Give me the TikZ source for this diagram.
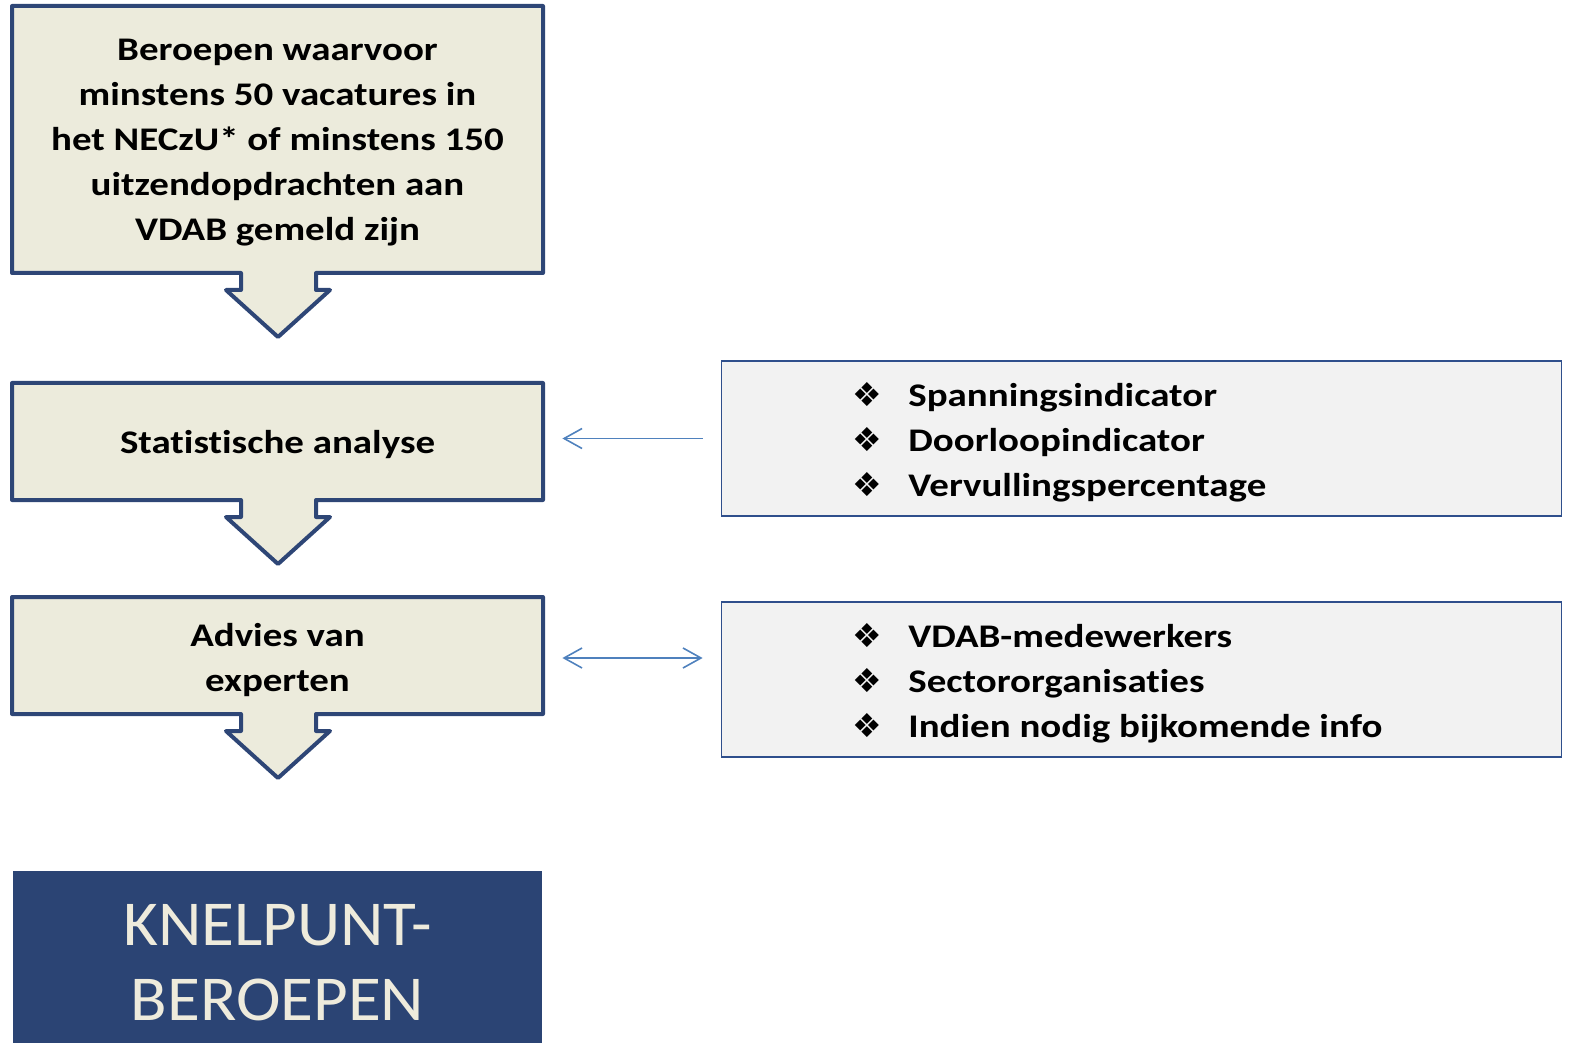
\documentclass[tikz,border=0pt]{standalone}
\usepackage{fontspec}
\setmainfont{Carlito}[FakeStretch=1.18,RawFeature=-liga]
\newfontfamily\knelfont{Carlito}[FakeStretch=1.05,RawFeature=-liga]
\newfontfamily\symfont{DejaVu Sans}
\usetikzlibrary{arrows.meta}
\definecolor{boxfill}{HTML}{ECEBDC}
\definecolor{boxline}{HTML}{2E4676}
\definecolor{listfill}{HTML}{F2F2F2}
\definecolor{listline}{HTML}{2F4F8C}
\definecolor{connc}{HTML}{4F81BD}
\definecolor{knelc}{HTML}{2B4474}
\definecolor{kneltext}{HTML}{EEEBDC}
\newcommand{\bul}{\makebox[28pt][l]{\symfont ❖}}
\newcommand{\callbox}[2]{%
  \draw[callout] (12,#1) -- (543,#1) -- (543,#2) -- (316,#2) -- (316,{#2+17})
    -- (330,{#2+17}) -- (278,{#2+64}) -- (226,{#2+17}) -- (241,{#2+17})
    -- (241,#2) -- (12,#2) -- cycle;}
\begin{document}
\begin{tikzpicture}[x=0.5pt,y=-0.5pt,
  callout/.style={draw=boxline,fill=boxfill,line width=2pt,line join=round},
  boxtext/.style={inner sep=0pt,align=center,minimum width=265.5pt,
    font=\fontsize{16.5}{22.5}\selectfont\bfseries},
  listbox/.style={draw=listline,fill=listfill,line width=0.9pt,inner sep=0pt,
    minimum width=420pt,minimum height=77.5pt},
  listtext/.style={inner sep=0pt,align=left,anchor=west,
    font=\fontsize{16.5}{22.5}\selectfont\bfseries},
  connarrow/.style={draw=connc,line width=0.8pt},
  knelbox/.style={fill=knelc,inner sep=0pt,minimum width=264.5pt,minimum height=86pt},
  kneltxt/.style={text=kneltext,align=center,inner sep=0pt,
    font=\fontsize{32}{37.5}\selectfont\knelfont}]
\useasboundingbox (0,0) rectangle (1570,1043);
\callbox{6}{273}
\callbox{383}{500}
\callbox{597}{714}
\node[boxtext] (b1) at (277.5,143) {Beroepen waarvoor\\minstens 50 vacatures in\\het NECzU* of minstens 150\\uitzendopdrachten aan\\VDAB gemeld zijn};
\node[boxtext,minimum height=58.5pt] (b2) at (277.5,441.5) {};
\node[boxtext] (b2t) at (277.5,445) {Statistische analyse};
\node[boxtext,minimum height=58.5pt] (b3) at (277.5,655.5) {};
\node[boxtext] (b3t) at (277.5,660) {Advies van\\experten};
\node[listbox] (l1) at (1141.5,438.5) {};
\node[listbox] (l2) at (1141.5,679.5) {};
\node[listtext] (t1) at (852,442) {\bul Spanningsindicator\\\bul Doorloopindicator\\\bul Vervullingspercentage};
\node[listtext] (t2) at (852,683) {\bul VDAB-medewerkers\\\bul Sectororganisaties\\\bul Indien nodig bijkomende info};
\draw[connarrow,-{Straight Barb[length=9pt,width=10pt]},shorten <=9pt,shorten >=9.5pt] (l1.west) -- (l1.west -| b2.east);
\draw[connarrow,{Straight Barb[length=9pt,width=10pt]}-{Straight Barb[length=9pt,width=10pt]},shorten <=9.5pt,shorten >=9pt] (b3.east |- 0,658) coordinate (c3) -- (c3 -| l2.west);
\node[knelbox] (k) at (277.5,957) {};
\node[kneltxt] (kt) at (277.5,963) {KNELPUNT-\\BEROEPEN};
\end{tikzpicture}
\end{document}
